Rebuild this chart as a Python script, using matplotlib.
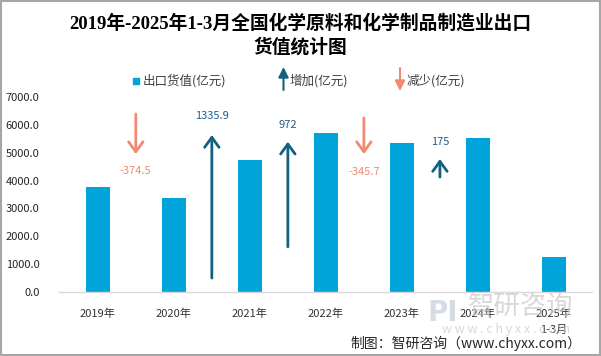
import matplotlib
matplotlib.use("Agg")
import matplotlib.pyplot as plt
from matplotlib.patches import Rectangle

plt.rcParams['font.family'] = ['Noto Sans CJK SC', 'DejaVu Sans']

# ---- data ----
categories = ['2019年', '2020年', '2021年', '2022年', '2023年', '2024年', '2025年\n1-3月']
export_values = [3766.5, 3392.0, 4727.9, 5699.9, 5354.2, 5529.2, 1260.0]
changes = [-374.5, 1335.9, 972, -345.7, 175]
change_labels = ['-374.5', '1335.9', '972', '-345.7', '175']
arrow_tail = [6390, 500, 1620, 6250, 4125]
arrow_head = [4950, 5635, 5395, 4950, 4772]
label_y = [4340, 6318, 5994, 4304, 5383]
yticks = [0, 1000, 2000, 3000, 4000, 5000, 6000, 7000]

W, H = 601, 356
fig = plt.figure(figsize=(W / 100, H / 100), dpi=100)

def fx(px):
    return px / W

def fy(py):
    return 1 - py / H

bar_color = '#00A3DA'
up_color = '#14607F'
down_color = '#F08A74'
up_text = '#1F5C8C'

ax = fig.add_axes([fx(59), fy(292), fx(592) - fx(59), fy(97) - fy(292)])
x = list(range(len(categories)))
ax.bar(x, export_values, width=0.32, color=bar_color, zorder=2)
ax.set_xlim(-0.51, 6.5)
ax.set_ylim(0, 7000)
ax.set_yticks(yticks)
ax.set_yticklabels([f'{v:.1f}' for v in yticks], fontsize=8, color='#262626')
ax.set_xticks(x)
ax.set_xticklabels(categories, fontsize=8, color='#333333', linespacing=1.7, va='top')
ax.tick_params(axis='both', length=0)
ax.tick_params(axis='y', pad=14)
ax.tick_params(axis='x', pad=12)
for s in ['left', 'right', 'top']:
    ax.spines[s].set_visible(False)
ax.spines['bottom'].set_color('#D9D9D9')
ax.spines['bottom'].set_linewidth(1.0)

for i, ch in enumerate(changes):
    xc = i + 0.5
    col = up_color if ch > 0 else down_color
    tcol = up_text if ch > 0 else down_color
    ax.annotate('', xy=(xc, arrow_head[i]), xytext=(xc, arrow_tail[i]),
                arrowprops=dict(arrowstyle='->,head_length=0.55,head_width=0.4',
                                color=col, lw=2.0, mutation_scale=13,
                                shrinkA=0, shrinkB=0), zorder=3)
    ax.text(xc, label_y[i], change_labels[i], ha='center', va='center',
            fontsize=8, color=tcol, zorder=4)

# ---- watermark ----
fig.text(fx(443), fy(313), 'PI', fontsize=20, color='#C5CEDC', ha='center', va='center',
         fontweight='bold', alpha=0.7, family=['DejaVu Sans'])
fig.text(fx(521), fy(306), '智研咨询', fontsize=19, color='#C8C8C8', ha='center', va='center', alpha=0.7)
fig.text(fx(506), fy(329), 'w w w . c h y x x . c o m', fontsize=9, color='#C8C8C8',
         ha='center', va='center', alpha=0.7)

# ---- title ----
tfam = ['Liberation Serif', 'Noto Sans CJK SC']
fig.text(0.5, fy(23), '2019年-2025年1-3月全国化学原料和化学制品制造业出口', fontsize=13.5,
         fontweight='bold', ha='center', va='center', family=tfam, color='#000000')
fig.text(0.5, fy(47), '货值统计图', fontsize=13.5, fontweight='bold', ha='center', va='center',
         family=tfam, color='#000000')

# ---- legend ----
fig.patches.append(Rectangle((fx(133), fy(84)), fx(6), fy(78) - fy(84), transform=fig.transFigure,
                             color=bar_color))
fig.text(fx(143), fy(81), '出口货值(亿元)', fontsize=9, color='#404040', ha='left', va='center')
ax.annotate('', xy=(fx(283.5), fy(67)), xytext=(fx(283.5), fy(90)), xycoords='figure fraction',
            arrowprops=dict(arrowstyle='-|>,head_length=0.5,head_width=0.25', color=up_color,
                            lw=1.5, mutation_scale=12, shrinkA=0, shrinkB=0), annotation_clip=False)
fig.text(fx(290), fy(81), '增加(亿元)', fontsize=9, color='#404040', ha='left', va='center')
ax.annotate('', xy=(fx(400), fy(91)), xytext=(fx(400), fy(68)), xycoords='figure fraction',
            arrowprops=dict(arrowstyle='-|>,head_length=0.5,head_width=0.25', color=down_color,
                            lw=1.5, mutation_scale=12, shrinkA=0, shrinkB=0), annotation_clip=False)
fig.text(fx(407), fy(81), '减少(亿元)', fontsize=9, color='#404040', ha='left', va='center')

# ---- footer ----
fig.text(fx(581), fy(343), '制图：智研咨询（www.chyxx.com）', fontsize=10, color='#262626',
         ha='right', va='center')

# ---- border ----
fig.patches.append(Rectangle((0.001, 0.002), 0.997, 0.995, transform=fig.transFigure,
                             fill=False, edgecolor='#A6A6A6', lw=1.5))

fig.savefig('out.png', dpi=100)
